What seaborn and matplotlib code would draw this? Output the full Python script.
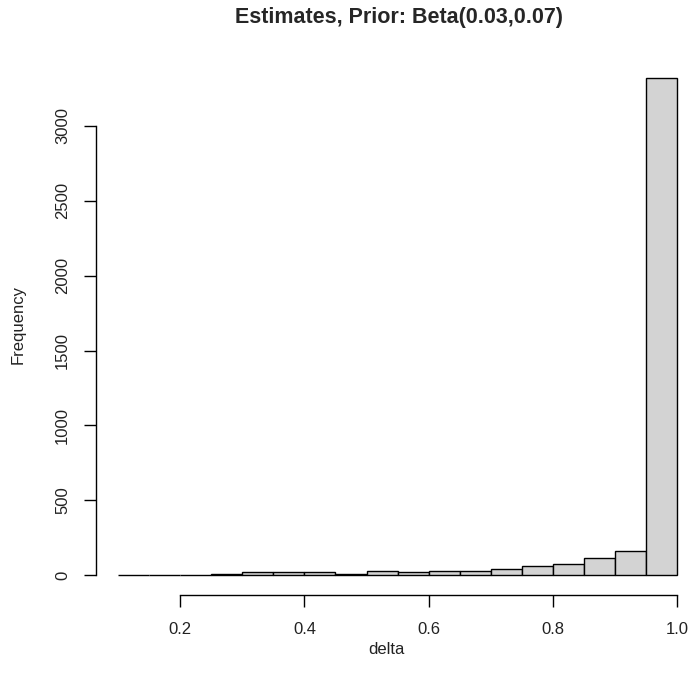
import matplotlib
matplotlib.use("Agg")
import matplotlib.pyplot as plt
import seaborn as sns
import numpy as np

bin_edges = [0.10, 0.15, 0.20, 0.25, 0.30, 0.35, 0.40, 0.45, 0.50, 0.55,
             0.60, 0.65, 0.70, 0.75, 0.80, 0.85, 0.90, 0.95, 1.00]
counts = [0, 0, 0, 4, 20, 20, 18, 6, 30, 20, 29, 27, 40, 60, 73, 111, 162, 3320]
bin_centers = [(a + b) / 2 for a, b in zip(bin_edges[:-1], bin_edges[1:])]
x_ticks = [0.2, 0.4, 0.6, 0.8, 1.0]
y_ticks = [0, 500, 1000, 1500, 2000, 2500, 3000]
title = "Estimates, Prior: Beta(0.03,0.07)"

sns.set_style("white")
plt.rcParams['font.family'] = ['Liberation Sans', 'DejaVu Sans']

W, H = 692, 688
fig = plt.figure(figsize=(W / 100, H / 100), dpi=100)
left_px, right_px, bottom_px, top_px = 96, 692, 595, 58
ax = fig.add_axes([left_px / W, 1 - bottom_px / H, (right_px - left_px) / W, (bottom_px - top_px) / H])

sns.histplot(x=bin_centers, weights=counts, bins=bin_edges, color="#D3D3D3",
             edgecolor="black", linewidth=1.0, alpha=1.0, ax=ax)

y0_px, y3000_px = 575, 126
ppu = (y0_px - y3000_px) / 3000.0
ax.set_xlim(0.0645, 1.024)
ax.set_ylim(-(bottom_px - y0_px) / ppu, (y0_px - top_px) / ppu)
for s in ["top", "right"]:
    ax.spines[s].set_visible(False)
for s in ["left", "bottom"]:
    ax.spines[s].set_color("black")
    ax.spines[s].set_linewidth(1.0)
ax.spines["left"].set_bounds(0, 3000)
ax.spines["bottom"].set_bounds(0.2, 1.0)
ax.set_xticks(x_ticks)
ax.set_xticklabels([f"{v:.1f}" for v in x_ticks])
ax.set_yticks(y_ticks)
ax.set_yticklabels([str(v) for v in y_ticks], rotation=90, va="center")
ax.tick_params(axis="both", direction="out", length=8.6, width=1.0, color="black",
               labelsize=12, labelcolor="#222222", left=True, bottom=True)
ax.tick_params(axis="x", pad=10.5)
ax.tick_params(axis="y", pad=10)

ax.set_xlabel("delta", fontsize=12, color="#222222")
ax.set_ylabel("Frequency", fontsize=12, color="#222222")
ax.xaxis.label.set_va("center")
ax.yaxis.label.set_va("center")
ax.xaxis.set_label_coords((386 - left_px) / (right_px - left_px), -(650 - bottom_px) / (bottom_px - top_px))
ax.yaxis.set_label_coords(-(left_px - 18) / (right_px - left_px), (bottom_px - 325) / (bottom_px - top_px))

fig.text(399 / W, 1 - 17 / H, title, fontsize=15.5, fontweight="bold", ha="center", va="center")

fig.savefig("out.png", dpi=100)
